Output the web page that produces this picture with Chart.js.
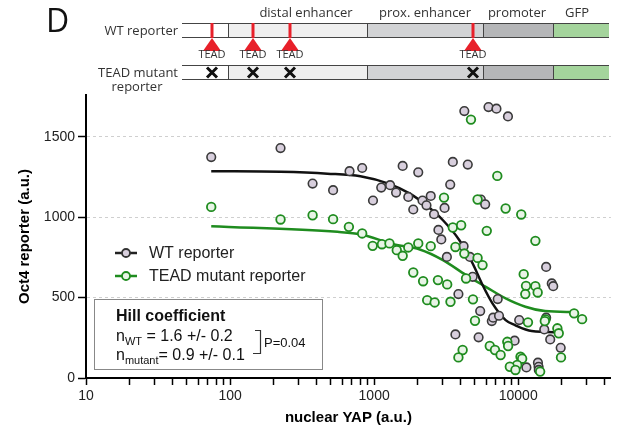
<!DOCTYPE html>
<html>
<head>
<meta charset="utf-8">
<script src="https://cdn.jsdelivr.net/npm/chart.js@4/dist/chart.umd.min.js"></script>
<style>
  html, body { margin: 0; padding: 0; background: #fff; }
</style>
</head>
<body>
<canvas id="myChart" width="617" height="435"></canvas>
<script>
// WT reporter measurements (nuclear YAP, Oct4 reporter)
let wtX = [74, 224, 374, 519, 675, 826, 982, 1120, 1291, 1420, 1578, 1726, 1869, 2024, 2166, 2309, 2471, 2606,
  3083, 3374, 3517, 2794, 2925, 4227, 4467, 6221, 7063, 8490, 5508, 5900, 3199, 4178, 4624, 4828,
  3846, 5447, 6558, 6700, 7360, 7207, 3666, 5310, 9441, 10160, 11400, 13710, 13850, 13900, 15630, 17100,
  17500, 15630, 15170, 16680, 19720];
let wtY = [1374, 1430, 1209, 1168, 1286, 1306, 1104, 1184, 1199, 1153, 1319, 1126, 1048, 1279, 1104, 1074, 1132, 1019,
  1058, 1203, 1344, 921, 862, 1660, 1327, 1685, 1675, 1627, 1110, 1080, 753, 820, 753, 629,
  522, 416, 354, 375, 387, 491, 271, 253, 232, 360, 66, 95, 70, 50, 691, 588,
  571, 375, 302, 240, 188];

// TEAD mutant reporter measurements
let mutX = [74, 224, 374, 519, 668, 826, 977, 1133, 1278, 1436, 1578, 1726, 2024, 2471, 3055, 3517, 4018, 3666,
  4227, 5224, 5654, 4345, 5224, 6050, 8180, 10500, 13160, 4700, 7160, 1869, 2188, 2773, 3214, 2335,
  2631, 3388, 4853, 5013, 10920, 11330, 11200, 13160, 13650, 11690, 15470, 15300, 24430, 27770, 18700,
  19120, 19820, 6350, 6900, 7550, 8400, 8510, 4114, 3846, 10380, 10650, 9840, 8750, 9570, 14200];
let mutY = [1064, 986, 1012, 988, 940, 899, 822, 832, 837, 795, 760, 812, 837, 820, 1122, 936, 950, 815,
  774, 747, 702, 619, 1110, 915, 1054, 1017, 853, 1607, 1257, 656, 602, 609, 582, 484,
  470, 474, 489, 356, 646, 573, 522, 571, 532, 346, 364, 354, 402, 366, 309,
  278, 128, 199, 174, 143, 225, 199, 174, 128, 132, 120, 81, 70, 50, 40];

// fitted curves
let wtFitX = [74, 224, 474, 803, 1259, 1771, 2305, 3004, 3908, 4830, 5660, 6627, 8180, 9500, 12400, 20000];
let wtFitY = [1286, 1282, 1271, 1255, 1209, 1147, 1074, 981, 857, 712, 578, 464, 360, 329, 292, 284];
let mutFitX = [74, 556, 803, 1361, 2075, 3004, 4345, 5957, 8180, 11220, 15380, 24800];
let mutFitY = [944, 909, 894, 832, 799, 733, 640, 567, 495, 443, 416, 410];

// axes
let xTickValues = [10, 20, 30, 40, 50, 60, 70, 80, 90, 100, 200, 300, 400, 500, 600, 700, 800, 900,
  1000, 2000, 3000, 4000, 5000, 6000, 7000, 8000, 9000, 10000, 20000, 30000, 40000];
let xTickLabels = { 10: "10", 100: "100", 1000: "1000", 10000: "10000" };
let yTickValues = [0, 500, 1000, 1500];

let toPoints = (xs, ys) => xs.map((x, i) => ({ x: x, y: ys[i] }));

const FONT = "'Liberation Sans', Arial, sans-serif";
const DFONT = "'Open Sans', sans-serif";
const GREEN = "#1f8c1f";

function drawConstruct(c, y0, y1, wt) {
  let segs = [[182, 228, "#ffffff"], [228, 367, "#efefef"], [367, 483, "#d2d3d5"], [483, 553, "#b5b6b8"], [553, 609, "#a4d49c"]];
  segs.forEach(s => {
    c.fillStyle = s[2];
    c.fillRect(s[0], y0, s[1] - s[0], y1 - y0);
  });
  c.strokeStyle = "#444";
  c.lineWidth = 1;
  c.beginPath();
  c.moveTo(182, y0 + 0.5); c.lineTo(609, y0 + 0.5);
  c.moveTo(182, y1 - 0.5); c.lineTo(609, y1 - 0.5);
  [228, 367, 483, 553].forEach(x => { c.moveTo(x + 0.5, y0); c.lineTo(x + 0.5, y1); });
  c.stroke();
  let sites = [212, 253, 290, 473];
  if (wt) {
    c.strokeStyle = "#e8202a";
    c.fillStyle = "#e8202a";
    c.lineWidth = 3;
    sites.forEach(x => {
      c.beginPath(); c.moveTo(x, y0); c.lineTo(x, y1); c.stroke();
      c.beginPath(); c.moveTo(x, y1); c.lineTo(x - 9, y1 + 13); c.lineTo(x + 9, y1 + 13); c.closePath(); c.fill();
    });
    c.fillStyle = "#333";
    c.font = "11px " + DFONT;
    c.textAlign = "center";
    c.textBaseline = "middle";
    sites.forEach(x => c.fillText("TEAD", x, y1 + 17));
  } else {
    c.strokeStyle = "#111";
    c.lineWidth = 3;
    let ym = (y0 + y1) / 2;
    sites.forEach(x => {
      c.beginPath();
      c.moveTo(x - 5, ym - 5); c.lineTo(x + 5, ym + 5);
      c.moveTo(x + 5, ym - 5); c.lineTo(x - 5, ym + 5);
      c.stroke();
    });
  }
}

const decor = {
  id: "decor",
  afterDraw(chart) {
    const c = chart.ctx;
    c.save();
    // panel letter
    c.fillStyle = "#111";
    c.font = "32px " + DFONT;
    c.textAlign = "left";
    c.textBaseline = "alphabetic";
    c.fillText("D", 46, 32);

    // reporter constructs
    c.font = "13px " + DFONT;
    c.fillStyle = "#333";
    c.textAlign = "center";
    c.textBaseline = "middle";
    c.fillText("distal enhancer", 306, 13);
    c.fillText("prox. enhancer", 425, 13);
    c.fillText("promoter", 517, 13);
    c.fillText("GFP", 577, 13);
    c.textAlign = "right";
    c.fillText("WT reporter", 178, 31);
    c.fillText("TEAD mutant", 178, 73);
    c.textAlign = "center";
    c.fillText("reporter", 137, 87);
    drawConstruct(c, 23, 38, true);
    drawConstruct(c, 65, 80, false);

    // legend
    let legend = [["WT reporter", "#222", "#d8cfdd", "#333", 253], ["TEAD mutant reporter", GREEN, "#e8f4e6", GREEN, 276]];
    legend.forEach(l => {
      c.strokeStyle = l[1];
      c.lineWidth = 2.5;
      c.beginPath(); c.moveTo(115, l[4]); c.lineTo(137, l[4]); c.stroke();
      c.beginPath(); c.arc(126, l[4], 4, 0, Math.PI * 2);
      c.fillStyle = l[2]; c.fill();
      c.strokeStyle = l[3]; c.lineWidth = 1.8; c.stroke();
      c.fillStyle = "#222";
      c.font = "16px " + FONT;
      c.textAlign = "left";
      c.textBaseline = "middle";
      c.fillText(l[0], 149, l[4] + 1);
    });

    // Hill coefficient box
    c.fillStyle = "#fff";
    c.fillRect(94, 300, 228, 69);
    c.strokeStyle = "#888";
    c.lineWidth = 1;
    c.strokeRect(94.5, 299.5, 228, 70);
    c.fillStyle = "#111";
    c.textAlign = "left";
    c.textBaseline = "alphabetic";
    c.font = "bold 16px " + FONT;
    c.fillText("Hill coefficient", 116, 321);
    let row = (sub, rest, y) => {
      c.font = "16px " + FONT;
      c.fillText("n", 116, y);
      let x = 116 + c.measureText("n").width;
      c.font = "11px " + FONT;
      c.fillText(sub, x, y + 4);
      x += c.measureText(sub).width;
      c.font = "16px " + FONT;
      c.fillText(rest, x, y);
    };
    row("WT", " = 1.6 +/- 0.2", 341);
    row("mutant", "= 0.9 +/- 0.1", 360);
    c.strokeStyle = "#333";
    c.lineWidth = 1.2;
    c.beginPath();
    c.moveTo(255, 330.5); c.lineTo(260.5, 330.5); c.lineTo(260.5, 353.5); c.lineTo(253, 353.5);
    c.stroke();
    c.font = "13px " + FONT;
    c.textBaseline = "middle";
    c.fillText("P=0.04", 264, 343);
    c.restore();
  }
};

let ctx = document.getElementById("myChart").getContext("2d");
let chart = new Chart(ctx, {
  type: "scatter",
  data: {
    datasets: [
      {
        label: "TEAD mutant reporter",
        data: toPoints(mutX, mutY),
        backgroundColor: "#e8f4e6",
        borderColor: GREEN,
        borderWidth: 1.8,
        pointRadius: 4.3,
        clip: false,
        order: 0
      },
      {
        label: "WT reporter",
        data: toPoints(wtX, wtY),
        backgroundColor: "#d8cfdd",
        borderColor: "#3a3a3a",
        borderWidth: 1.6,
        pointRadius: 4.3,
        clip: false,
        order: 1
      },
      {
        label: "WT fit",
        data: toPoints(wtFitX, wtFitY),
        showLine: true,
        borderColor: "#111",
        borderWidth: 2.5,
        pointRadius: 0,
        cubicInterpolationMode: "monotone",
        order: 2
      },
      {
        label: "mutant fit",
        data: toPoints(mutFitX, mutFitY),
        showLine: true,
        borderColor: GREEN,
        borderWidth: 2.5,
        pointRadius: 0,
        cubicInterpolationMode: "monotone",
        order: 3
      }
    ]
  },
  options: {
    responsive: false,
    animation: false,
    devicePixelRatio: 1,
    layout: { padding: { top: 95, right: 0, bottom: 0, left: 0 } },
    plugins: { legend: { display: false }, tooltip: { enabled: false } },
    scales: {
      x: {
        type: "logarithmic",
        min: 10,
        max: 44000,
        afterBuildTicks: s => { s.ticks = xTickValues.map(v => ({ value: v })); },
        afterFit: s => { s.height = 57; },
        ticks: {
          autoSkip: false,
          maxRotation: 0,
          color: "#222",
          font: { family: FONT, size: 14 },
          padding: 3,
          callback: v => xTickLabels[v] || ""
        },
        grid: { drawOnChartArea: false, tickLength: 7, tickWidth: 1.5, tickColor: "#000", tickBorderDash: [] },
        border: { color: "#000", width: 2 },
        title: {
          display: true,
          text: "nuclear YAP (a.u.)",
          color: "#000",
          font: { family: FONT, size: 15, weight: "bold" },
          padding: { top: 0, bottom: 8 }
        }
      },
      y: {
        min: 0,
        max: 1760,
        afterBuildTicks: s => { s.ticks = yTickValues.map(v => ({ value: v })); },
        afterFit: s => { s.width = 86; },
        ticks: {
          color: "#222",
          font: { family: FONT, size: 14 },
          padding: 3,
          callback: v => String(v)
        },
        grid: {
          color: c => (c.tick && c.tick.value === 0) ? "rgba(0,0,0,0)" : "#cfcfcf",
          lineWidth: 1,
          tickLength: 8,
          tickWidth: 1.5,
          tickColor: "#000",
          tickBorderDash: []
        },
        border: { color: "#000", width: 2, dash: [3, 3] },
        title: {
          display: true,
          text: "Oct4 reporter (a.u.)",
          color: "#000",
          font: { family: FONT, size: 15, weight: "bold" },
          padding: { top: 16, bottom: 0 }
        }
      }
    }
  },
  plugins: [decor]
});
</script>
</body>
</html>
